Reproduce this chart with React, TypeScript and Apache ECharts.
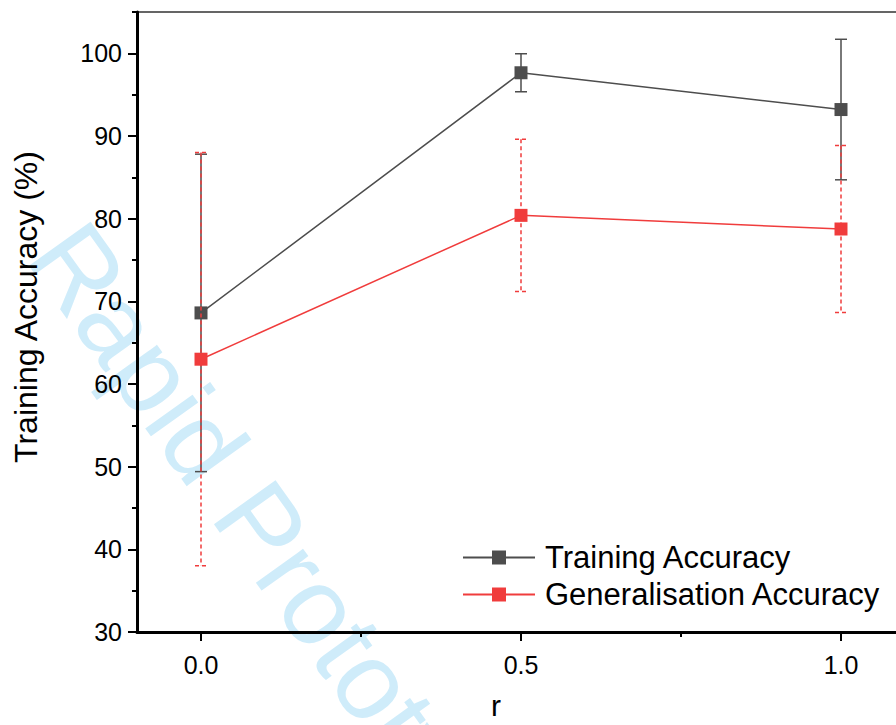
import React, { useEffect, useRef } from "react";
import * as echarts from "echarts";

const rValues = [0, 0.5, 1.0];
const trainMean = [68.6, 97.65, 93.2];
const trainErr = [19.2, 2.3, 8.5];
const genMean = [63.0, 80.4, 78.75];
const genErr = [25.0, 9.2, 10.1];

const xMajorTicks = [0, 0.5, 1.0];
const xMinorTicks = [0.25, 0.75];
const yMajorTicks = [30, 40, 50, 60, 70, 80, 90, 100];
const yMinorTicks = [35, 45, 55, 65, 75, 85, 95, 105];

const FONT = "Liberation Sans, Arial, sans-serif";
const BLACK = "#4d4d4d";
const RED = "#f03c3c";

function errorSeries(name: string, means: number[], errs: number[], color: string, dashed: boolean, z: number) {
  return {
    type: "custom",
    name,
    z,
    xAxisIndex: 0,
    yAxisIndex: 0,
    encode: { x: 0, y: [1, 2] },
    data: rValues.map((r, i) => [r, means[i] - errs[i], means[i] + errs[i]]),
    renderItem: (params: any, api: any) => {
      const x = api.value(0);
      const lo = api.value(1);
      const hi = api.value(2);
      const pHi = api.coord([x, hi]);
      const pLo = api.coord([x, lo]);
      const hw = 6;
      const style: any = { stroke: color, lineWidth: 1.5, fill: null };
      if (dashed) style.lineDash = [4, 3];
      return {
        type: "group",
        children: [
          { type: "line", shape: { x1: pHi[0], y1: pHi[1], x2: pLo[0], y2: pLo[1] }, style },
          { type: "line", shape: { x1: pHi[0] - hw, y1: pHi[1], x2: pHi[0] + hw, y2: pHi[1] }, style },
          { type: "line", shape: { x1: pLo[0] - hw, y1: pLo[1], x2: pLo[0] + hw, y2: pLo[1] }, style },
        ],
      };
    },
  };
}

export default function App() {
  const ref = useRef<HTMLDivElement>(null);
  useEffect(() => {
    if (!ref.current) return;
    const chart = echarts.init(ref.current, null, { renderer: "svg" });
    const axisCommonX = { type: "value", min: -0.1, max: 1.1, splitLine: { show: false } };
    const axisCommonY = { type: "value", min: 30, max: 105, splitLine: { show: false } };
    chart.setOption({
      animation: false,
      backgroundColor: "#ffffff",
      textStyle: { fontFamily: FONT },
      grid: {
        left: 137,
        right: -9,
        top: 12,
        bottom: 93,
        outerBoundsMode: "none",
        containLabel: false,
        show: true,
        borderColor: "#333333",
        borderWidth: 1.5,
        backgroundColor: "transparent",
      },
      graphic: [
        {
          type: "text",
          x: 55,
          y: 236,
          rotation: -0.95,
          z: -10,
          silent: true,
          style: {
            text: "Rapid Prototyping Journal",
            fontSize: 110,
            fontFamily: FONT,
            fill: "#cfecfa",
            align: "left",
            verticalAlign: "middle",
          },
        },
      ],
      legend: {
        orient: "vertical",
        left: 457,
        top: 537,
        itemWidth: 72,
        itemHeight: 17.5,
        itemGap: 6,
        data: ["Training Accuracy", "Generalisation Accuracy"],
        textStyle: { fontSize: 31, lineHeight: 31, color: "#000", fontFamily: FONT, padding: [0, 0, 0, 5] },
      },
      xAxis: [
        {
          ...axisCommonX,
          position: "bottom",
          name: "r",
          nameLocation: "middle",
          nameGap: 58,
          nameTextStyle: { fontSize: 30, color: "#000", fontFamily: FONT, padding: [0, 50, 0, 0] },
          axisLine: { show: true, onZero: false, lineStyle: { color: "#000", width: 3 } },
          axisTick: { show: true, inside: false, length: 9, customValues: xMajorTicks, lineStyle: { color: "#000", width: 2 } },
          axisLabel: {
            show: true,
            customValues: xMajorTicks,
            margin: 20,
            fontSize: 25,
            color: "#000",
            fontFamily: FONT,
            formatter: (v: number) => v.toFixed(1),
          },
        },
        {
          ...axisCommonX,
          position: "bottom",
          axisLine: { show: false, onZero: false },
          axisTick: { show: true, length: 5, customValues: xMinorTicks, lineStyle: { color: "#000", width: 2 } },
          axisLabel: { show: false },
        },
      ],
      yAxis: [
        {
          ...axisCommonY,
          position: "left",
          name: "Training Accuracy (%)",
          nameLocation: "middle",
          nameGap: 95,
          nameTextStyle: { fontSize: 32, color: "#000", fontFamily: FONT, padding: [0, 0, 0, 30] },
          axisLine: { show: true, onZero: false, lineStyle: { color: "#000", width: 3 } },
          axisTick: { show: true, length: 9, customValues: yMajorTicks, lineStyle: { color: "#000", width: 2 } },
          axisLabel: { show: true, customValues: yMajorTicks, margin: 15, fontSize: 25, color: "#000", fontFamily: FONT },
        },
        {
          ...axisCommonY,
          position: "left",
          axisLine: { show: false, onZero: false },
          axisTick: { show: true, length: 5, customValues: yMinorTicks, lineStyle: { color: "#000", width: 2 } },
          axisLabel: { show: false },
        },
      ],
      series: [
        errorSeries("Training Error", trainMean, trainErr, BLACK, false, 2),
        {
          type: "line",
          name: "Training Accuracy",
          z: 3,
          xAxisIndex: 0,
          yAxisIndex: 0,
          data: rValues.map((r, i) => [r, trainMean[i]]),
          symbol: "rect",
          symbolSize: 13,
          itemStyle: { color: BLACK },
          lineStyle: { color: BLACK, width: 1.5 },
        },
        errorSeries("Generalisation Error", genMean, genErr, RED, true, 4),
        {
          type: "line",
          name: "Generalisation Accuracy",
          z: 5,
          xAxisIndex: 0,
          yAxisIndex: 0,
          data: rValues.map((r, i) => [r, genMean[i]]),
          symbol: "rect",
          symbolSize: 13,
          itemStyle: { color: RED },
          lineStyle: { color: RED, width: 1.5 },
        },
      ],
    });
    return () => chart.dispose();
  }, []);
  return <div ref={ref} style={{ position: "absolute", left: 0, top: 0, width: 896, height: 725 }} />;
}
